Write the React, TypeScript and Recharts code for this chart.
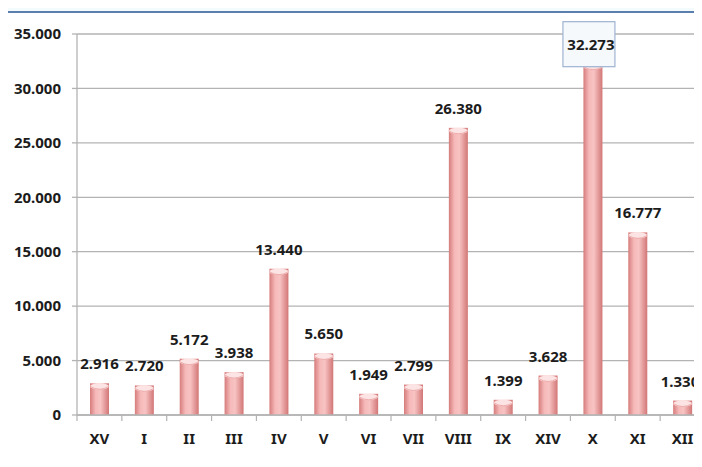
import React from "react";
import { BarChart, Bar, XAxis, YAxis, CartesianGrid, LabelList } from "recharts";

const categories = ["XV", "I", "II", "III", "IV", "V", "VI", "VII", "VIII", "IX", "XIV", "X", "XI", "XII"];
const values = [2916, 2720, 5172, 3938, 13440, 5650, 1949, 2799, 26380, 1399, 3628, 32273, 16777, 1330];
const yTicks = [0, 5000, 10000, 15000, 20000, 25000, 30000, 35000];
const highlightIndex = 11;

const data = categories.map((c, i) => ({ name: c, value: values[i] }));

const CHART_W = 712;
const CHART_H = 467;
const MARGIN = { top: 34, right: 7, bottom: 0, left: 0 };
const Y_W = 77;
const X_H = 52;
const BAND = (CHART_W - MARGIN.left - MARGIN.right - Y_W) / categories.length;

const FONT = "'Noto Sans', sans-serif";
const FS = 15;
const TEXT = "#1c1c1c";
const GRID = "#b3b3b3";

const fmt = (v: number) => String(Math.round(v)).replace(/\B(?=(\d{3})+(?!\d))/g, ".");

const XTick = (props: any) => {
  const { x, y, payload } = props;
  const bx = x - BAND / 2;
  return (
    <g>
      <line x1={bx} y1={y} x2={bx} y2={y + 6} stroke={GRID} strokeWidth={1.2} />
      <text
        x={x}
        y={y + 23}
        textAnchor="middle"
        dominantBaseline="central"
        fill={TEXT}
        fontFamily={FONT}
        fontWeight={700}
        fontSize={FS}
      >
        {payload.value}
      </text>
    </g>
  );
};

const BarShape = (props: any) => {
  const { x, y, width, height } = props;
  if (!height || height <= 0) return null;
  const cy = y + 3;
  return (
    <g>
      <rect x={x} y={y} width={width} height={height} fill="url(#barGrad)" />
      <ellipse cx={x + width / 2} cy={cy} rx={width / 2} ry={3} fill="#fde4e4" />
      <path
        d={`M ${x} ${cy} Q ${x + width / 2} ${cy + 6} ${x + width} ${cy}`}
        fill="none"
        stroke="#e8a0a0"
        strokeWidth={0.8}
      />
    </g>
  );
};

const LabelContent = (props: any) => {
  const { x, y, width, value, index } = props;
  const cx = Math.min(x + width / 2, 680);
  const ty = y - 20;
  return (
    <g>
      {index === highlightIndex && (
        <rect
          x={cx - 30}
          y={ty - 22}
          width={52}
          height={45}
          fill="#f6f9fc"
          stroke="#9fb3d1"
          strokeWidth={1.2}
        />
      )}
      <text
        x={index === highlightIndex ? cx - 2 : cx}
        y={ty}
        textAnchor="middle"
        dominantBaseline="central"
        fill={TEXT}
        fontFamily={FONT}
        fontWeight={700}
        fontSize={FS}
      >
        {fmt(value)}
      </text>
    </g>
  );
};

export default function App() {
  return (
    <div
      style={{
        position: "relative",
        margin: -8,
        width: 702,
        height: 467,
        overflow: "hidden",
        background: "#f3fbfd",
      }}
    >
      <div
        style={{
          position: "absolute",
          left: 6,
          top: 11,
          width: 740,
          height: 500,
          border: "2px solid #5a7eae",
          background: "#ffffff",
        }}
      />
      <div style={{ position: "absolute", left: 0, top: 0 }}>
        <BarChart width={CHART_W} height={CHART_H} data={data} margin={MARGIN}>
          <defs>
            <linearGradient id="barGrad" x1="0" y1="0" x2="1" y2="0">
              <stop offset="0%" stopColor="#d67c7c" />
              <stop offset="30%" stopColor="#f6b9b9" />
              <stop offset="55%" stopColor="#f8c3c3" />
              <stop offset="100%" stopColor="#d27676" />
            </linearGradient>
          </defs>
          <CartesianGrid vertical={false} stroke={GRID} strokeWidth={1.3} />
          <XAxis
            dataKey="name"
            height={X_H}
            tickSize={0}
            tickMargin={0}
            tickLine={false}
            axisLine={{ stroke: GRID, strokeWidth: 1.3 }}
            tick={<XTick />}
            interval={0}
          />
          <YAxis
            width={Y_W}
            domain={[0, 35000]}
            ticks={yTicks}
            tickFormatter={fmt}
            tickSize={5}
            tickMargin={11}
            axisLine={{ stroke: GRID, strokeWidth: 1.3 }}
            tickLine={{ stroke: GRID, strokeWidth: 1.3 }}
            tick={{ fill: TEXT, fontFamily: FONT, fontWeight: 700, fontSize: FS }}
            interval={0}
          />
          <Bar dataKey="value" barSize={19} shape={<BarShape />} isAnimationActive={false}>
            <LabelList dataKey="value" content={<LabelContent />} />
          </Bar>
        </BarChart>
      </div>
    </div>
  );
}
